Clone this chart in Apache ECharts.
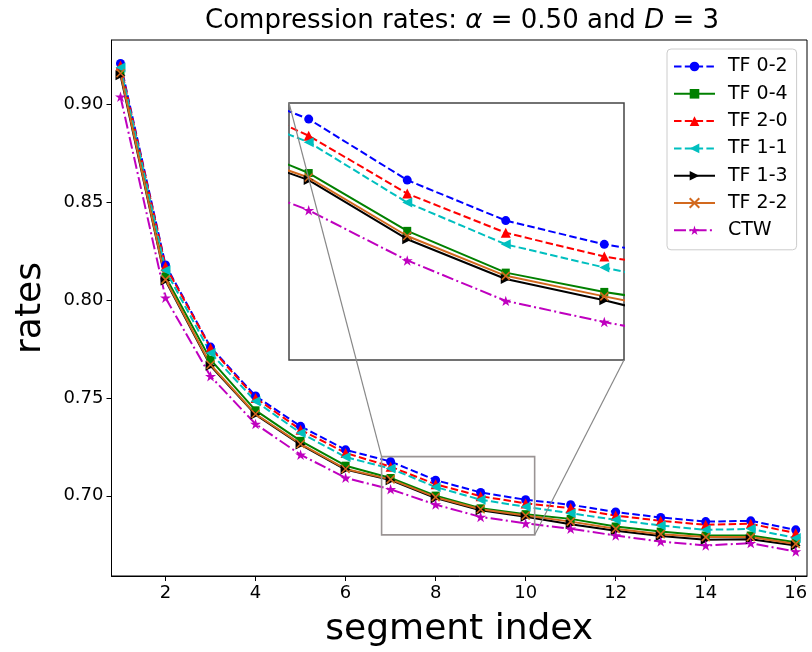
<!DOCTYPE html>
<html>
<head>
<meta charset="utf-8">
<script src="https://cdn.jsdelivr.net/npm/echarts@6/dist/echarts.min.js"></script>
<style>html,body{margin:0;padding:0;background:#fff}#c{width:812px;height:652px}</style>
</head>
<body>
<div id="c"></div>
<script>
const segIdx = [1,2,3,4,5,6,7,8,9,10,11,12,13,14,15,16];
const tf02 = [0.921,0.818,0.776,0.751,0.7355,0.7235,0.7175,0.7080,0.7017,0.6980,0.6954,0.6917,0.6889,0.6868,0.6872,0.6826];
const tf04 = [0.917,0.812,0.7696,0.7437,0.7281,0.7154,0.7091,0.7001,0.6936,0.6906,0.6882,0.6843,0.6817,0.6797,0.6797,0.6763];
const tf20 = [0.920,0.8174,0.7756,0.7500,0.7338,0.7219,0.7149,0.7059,0.6998,0.6961,0.6937,0.6899,0.6872,0.6852,0.6857,0.6809];
const tf11 = [0.919,0.8153,0.7730,0.7483,0.7321,0.7198,0.7139,0.7045,0.6980,0.6944,0.6911,0.6877,0.6848,0.6826,0.6831,0.6784];
const tf13 = [0.915,0.8100,0.7665,0.7415,0.7262,0.7134,0.7080,0.6988,0.6926,0.6893,0.6855,0.6821,0.6794,0.6775,0.6778,0.6746];
const tf22 = [0.916,0.8105,0.7670,0.7418,0.7265,0.7137,0.7084,0.6993,0.6931,0.6899,0.6868,0.6831,0.6804,0.6789,0.6789,0.6754];
const ctw  = [0.904,0.8012,0.7611,0.7367,0.7210,0.7092,0.7033,0.6955,0.6892,0.6859,0.6831,0.6797,0.6766,0.6746,0.6758,0.6715];
const xTicks = [2,4,6,8,10,12,14,16];
const yTicks = [0.70,0.75,0.80,0.85,0.90];
const insetX = [6.8, 10.2];
const insetY = [0.68, 0.72];

const FONT = 'DejaVu Sans';
const STAR = 'path://M0,-1L0.2245,-0.309L0.951,-0.309L0.3633,0.118L0.5878,0.809L0,0.382L-0.5878,0.809L-0.3633,0.118L-0.951,-0.309L-0.2245,-0.309Z';
const XMARK = 'path://M0,0L10,10M10,0L0,10';
const DASH = [7.5, 3.3];
const DASHDOT = [12, 3.3, 2, 3.3];

const defs = [
  {name:'TF 0-2', data:tf02, color:'#0000ff', type:DASH, symbol:'circle', size:9, rot:0},
  {name:'TF 0-4', data:tf04, color:'#008000', type:'solid', symbol:'rect', size:8, rot:0},
  {name:'TF 2-0', data:tf20, color:'#ff0000', type:DASH, symbol:'triangle', size:10, rot:0},
  {name:'TF 1-1', data:tf11, color:'#00bfbf', type:DASH, symbol:'triangle', size:10, rot:90},
  {name:'TF 1-3', data:tf13, color:'#000000', type:'solid', symbol:'triangle', size:10, rot:-90},
  {name:'TF 2-2', data:tf22, color:'#d2691e', type:'solid', symbol:XMARK, size:8, rot:0, stroke:true},
  {name:'CTW', data:ctw, color:'#bf00bf', type:DASHDOT, symbol:STAR, size:11, rot:0}
];

function mk(d, idx) {
  const s = {
    name: d.name, type: 'line',
    xAxisIndex: idx, yAxisIndex: idx,
    data: segIdx.map((x,i)=>[x, d.data[i]]),
    symbol: d.symbol, symbolSize: d.size, symbolRotate: d.rot, symbolKeepAspect: true,
    showAllSymbol: true,
    lineStyle: {color: d.color, width: 2, type: d.type},
    itemStyle: {color: d.color},
    emphasis: {disabled: true},
    animation: false, clip: true, z: idx ? 10 : 3
  };
  if (d.stroke) s.itemStyle = {color: d.color, borderColor: d.color, borderWidth: 1.6};
  return s;
}

const series = [];
defs.forEach(d => series.push(mk(d, 0)));
defs.forEach(d => series.push(mk(d, 1)));

const chart = echarts.init(document.getElementById('c'), null, {renderer:'canvas'});
const axisCommonLabel = {color:'#000', fontFamily: FONT, fontSize: 18};
chart.setOption({
  backgroundColor: '#fff',
  animation: false,
  textStyle: {fontFamily: FONT},
  title: {
    text: '{n|Compression rates: }{i|α}{n| = 0.50 and }{i|D}{n| = 3}',
    left: 457, top: 3, textAlign: 'center',
    textStyle: {
      fontWeight: 'normal',
      rich: {
        n: {fontFamily: FONT, fontSize: 26, fontWeight: 'normal', color: '#000'},
        i: {fontFamily: FONT, fontSize: 26, fontWeight: 'normal', fontStyle: 'italic', color: '#000'}
      }
    }
  },
  legend: {
    orient: 'vertical', left: 667, top: 49,
    padding: [8, 9, 10, 6],
    itemWidth: 41, itemHeight: 12, itemGap: 8.3, itemTextGap: 14,
    textStyle: {fontFamily: FONT, fontSize: 19, color: '#000', padding: [0, 0, 0, 8]},
    borderColor: '#cccccc', borderWidth: 1, borderRadius: 4,
    backgroundColor: 'rgba(255,255,255,0.8)',
    data: defs.map(d => d.name)
  },
  grid: [
    {left: 111.5, top: 40, right: 5, bottom: 76, show: true, borderColor: '#000', borderWidth: 1, containLabel: false, outerBoundsMode: 'none'},
    {left: 289, top: 103, width: 335, height: 257, show: true, backgroundColor: '#fff', borderColor: '#444', borderWidth: 1.5, containLabel: false, outerBoundsMode: 'none'}
  ],
  xAxis: [
    {type: 'value', gridIndex: 0, min: 0.8, max: 16.25,
     name: 'segment index', nameLocation: 'middle', nameGap: 36,
     nameTextStyle: {fontFamily: FONT, fontSize: 36, color: '#000'},
     axisLine: {show: true, onZero: false, lineStyle: {color: '#000', width: 1}},
     axisTick: {show: true, length: 5, inside: false, customValues: xTicks, lineStyle: {color: '#000', width: 1}},
     axisLabel: Object.assign({customValues: xTicks, margin: 8}, axisCommonLabel),
     splitLine: {show: false}},
    {type: 'value', gridIndex: 1, min: insetX[0], max: insetX[1],
     axisLine: {show: false}, axisTick: {show: false}, axisLabel: {show: false}, splitLine: {show: false}}
  ],
  yAxis: [
    {type: 'value', gridIndex: 0, min: 0.659, max: 0.933,
     name: 'rates', nameLocation: 'middle', nameGap: 63, nameRotate: 90,
     nameTextStyle: {fontFamily: FONT, fontSize: 36, color: '#000'},
     axisLine: {show: true, onZero: false, lineStyle: {color: '#000', width: 1}},
     axisTick: {show: true, length: 5, inside: false, customValues: yTicks, lineStyle: {color: '#000', width: 1}},
     axisLabel: Object.assign({customValues: yTicks, margin: 8, formatter: v => v.toFixed(2)}, axisCommonLabel),
     splitLine: {show: false}},
    {type: 'value', gridIndex: 1, min: insetY[0], max: insetY[1],
     axisLine: {show: false}, axisTick: {show: false}, axisLabel: {show: false}, splitLine: {show: false}}
  ],
  series: series
});

const rTL = chart.convertToPixel({gridIndex: 0}, [insetX[0], insetY[1]]);
const rBR = chart.convertToPixel({gridIndex: 0}, [insetX[1], insetY[0]]);
const iTL = chart.convertToPixel({gridIndex: 1}, [insetX[0], insetY[1]]);
const iBR = chart.convertToPixel({gridIndex: 1}, [insetX[1], insetY[0]]);
chart.setOption({
  graphic: [
    {type: 'rect', z: 50, silent: true,
     shape: {x: rTL[0], y: rTL[1], width: rBR[0]-rTL[0], height: rBR[1]-rTL[1]},
     style: {fill: 'none', stroke: '#9a9494', lineWidth: 1.6}},
    {type: 'line', z: 50, silent: true,
     shape: {x1: iTL[0], y1: iTL[1], x2: rTL[0], y2: rTL[1]},
     style: {stroke: '#888', lineWidth: 1.2}},
    {type: 'line', z: 50, silent: true,
     shape: {x1: iBR[0], y1: iBR[1], x2: rBR[0], y2: rBR[1]},
     style: {stroke: '#888', lineWidth: 1.2}}
  ]
});
</script>
</body>
</html>
